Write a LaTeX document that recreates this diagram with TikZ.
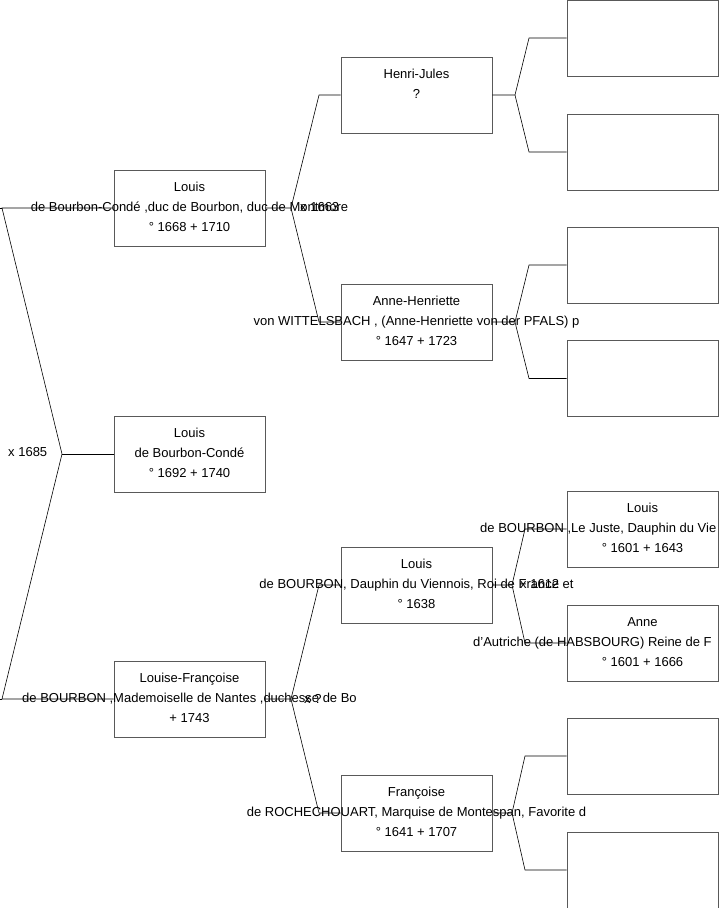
\documentclass[tikz,border=0pt]{standalone}
\usepackage{fontspec}
\setmainfont{Liberation Sans}
\usetikzlibrary{positioning}

\begin{document}
\begin{tikzpicture}[
    x=1pt, y=-1pt,
    person/.style={rectangle, draw=black!65, line width=0.8pt, minimum width=151pt, minimum height=76pt, inner sep=0pt},
    names/.style={align=center, font=\fontsize{13}{20}\selectfont, inner sep=0pt},
    line/.style={font=\fontsize{13}{20}\selectfont, inner sep=0pt},
    wed/.style={font=\fontsize{13}{14}\selectfont, inner sep=0pt, anchor=west},
    link/.style={black, line width=0.6pt},
]
\useasboundingbox (0,0) rectangle (719,908);

% Generation 1
\node (p1) [person] at (189.5,208) {};
\node (p2) [person] at (189.5,454) {};
\node (p3) [person] at (189.5,699) {};
\node [names] at ([yshift=1pt]p1.center) {Louis\\de Bourbon-Condé ,duc de Bourbon, duc de Montmore\\° 1668 + 1710};
\node [names] at ([yshift=1pt]p2.center) {Louis\\de Bourbon-Condé\\° 1692 + 1740};
\node [names] at ([yshift=1pt]p3.center) {Louise-Françoise\\de BOURBON ,Mademoiselle de Nantes ,duchesse de Bo\\+ 1743};

% Generation 2
\node (f1) [person] at (416.5,95) {};
\node (m1) [person] at (416.5,322) {};
\node (f3) [person] at (416.5,585) {};
\node (m3) [person] at (416.5,813) {};
\node [names] at ([yshift=1pt]f1.center) {Henri-Jules\\?\\\mbox{}};
\node [names] at ([yshift=1pt]m1.center) {Anne-Henriette\\von WITTELSBACH , (Anne-Henriette von der PFALS) p\\° 1647 + 1723};
\node [names] at ([yshift=1pt]f3.center) {Louis\\de BOURBON, Dauphin du Viennois, Roi de France et\\° 1638};
\node [names] at ([yshift=1pt]m3.center) {Françoise\\de ROCHECHOUART, Marquise de Montespan, Favorite d\\° 1641 + 1707};

% Generation 3
\node (g1) [person] at (642.5,38) {};
\node (g2) [person] at (642.5,152) {};
\node (g3) [person] at (642.5,265) {};
\node (g4) [person] at (642.5,378.5) {};
\node (g5) [person] at (642.5,529) {};
\node (g6) [person] at (642.5,643) {};
\node (g7) [person] at (642.5,756) {};
\node (g8) [person] at (642.5,870) {};
\node [names] at ([yshift=1pt]g5.center) {Louis\\\mbox{}\\° 1601 + 1643};
\node [line, anchor=west] at (480,529.5) {de BOURBON ,Le Juste, Dauphin du Vie};
\node [names] at ([yshift=1pt]g6.center) {Anne\\\mbox{}\\° 1601 + 1666};
\node [line, anchor=west] at (473,643.5) {d'Autriche (de HABSBOURG) Reine de F};

% Junctions
\coordinate (j0) at (62,454);
\coordinate (b1) at (2,208);
\coordinate (b3) at (2,699);
\coordinate (j1) at (291,208);
\coordinate (j3) at (291,699);
\coordinate (jf1) at (515,95);
\coordinate (jm1) at (515,322);
\coordinate (jf3) at (512,585);
\coordinate (jm3) at (512,813);

% Links
\draw[link] (p2.west) -- (j0);
\draw[link] (j0) -- (b1) -- (p1.west);
\draw[link] (j0) -- (b3) -- (p3.west);
\draw[link] (0,208) -- (b1);
\draw[link] (0,699) -- (b3);

\draw[link] (p1.east) -- (j1) -- (319,95) -- (f1.west);
\draw[link] (j1) -- (319,322) -- (m1.west);
\draw[link] (p3.east) -- (j3) -- (319,585) -- (f3.west);
\draw[link] (j3) -- (319,813) -- (m3.west);

\draw[link] (f1.east) -- (jf1) -- (529,38) -- (g1.west);
\draw[link] (jf1) -- (529,152) -- (g2.west);
\draw[link] (m1.east) -- (jm1) -- (529,265) -- (g3.west);
\draw[link] (jm1) -- (529,378.5) -- (g4.west);
\draw[link] (f3.east) -- (jf3) -- (525,529) -- (g5.west);
\draw[link] (jf3) -- (525,643) -- (g6.west);
\draw[link] (m3.east) -- (jm3) -- (525,756) -- (g7.west);
\draw[link] (jm3) -- (525,870) -- (g8.west);

% Marriages
\node [wed] at (8,452) {x 1685};
\node [wed] at (300,207) {x 1663};
\node [wed] at (304,699) {x ?};
\node [wed] at (520,584) {x 1612};
\end{tikzpicture}
\end{document}
